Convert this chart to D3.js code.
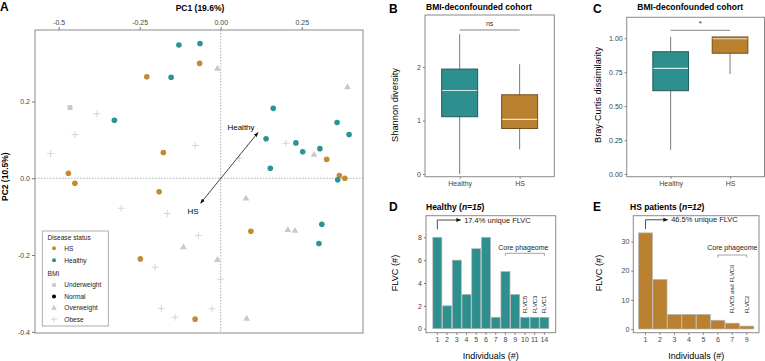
<!DOCTYPE html>
<html>
<head>
<meta charset="utf-8">
<script src="https://cdn.jsdelivr.net/npm/d3@7"></script>
<style>
  body { margin: 0; background: #fff; }
  svg { display: block; font-family: "Liberation Sans", Arial, sans-serif; }
</style>
</head>
<body>
<svg id="fig" width="765" height="361"></svg>
<script>
// ---- panel A : PCoA coordinates [PC1, PC2]
const hsPts = [[-0.065, 0.299], [-0.228, 0.264], [-0.177, 0.067], [-0.470, 0.013], [-0.450, -0.013],
  [-0.190, -0.035], [0.327, 0.049], [0.366, 0.007], [0.383, 0.000], [0.093, -0.138], [-0.248, -0.210], [-0.079, -0.367]];
const healthyPts = [[-0.129, 0.347], [-0.064, 0.351], [-0.153, 0.263], [-0.328, 0.151], [0.162, 0.182],
  [0.359, 0.145], [0.396, 0.114], [0.140, 0.103], [0.232, 0.092], [0.253, 0.069], [0.306, 0.077],
  [0.153, 0.026], [0.361, -0.004], [0.312, -0.120], [0.303, -0.170]];
const underweightPts = [[-0.465, 0.184]];
const overweightPts = [[-0.010, 0.285], [0.391, 0.237], [0.288, 0.061], [0.078, -0.053], [0.207, -0.135],
  [0.229, -0.137], [-0.115, -0.180], [-0.010, -0.213], [0.080, -0.366]];
const obesePts = [[-0.382, 0.168], [-0.450, 0.114], [-0.525, 0.064], [-0.079, 0.085], [0.057, 0.052],
  [0.201, 0.091], [-0.307, -0.078], [-0.165, -0.092], [-0.069, -0.149], [-0.203, -0.232], [-0.001, -0.263],
  [-0.183, -0.339], [-0.141, -0.362], [-0.027, -0.340]];
const arrowFrom = [-0.062, -0.065];
const arrowTo = [0.115, 0.119];
const pc1Ticks = [-0.5, -0.25, 0, 0.25];
const pc1Labels = ['-0.5', '-0.25', '0.00', '0.25'];
const pc2Ticks = [0.2, 0, -0.2, -0.4];
const pc2Labels = ['0.2', '0.0', '-0.2', '-0.4'];

// ---- panels B, C : boxplot stats [min, q1, median, q3, max]
const groups = ['Healthy', 'HS'];
const shannonBox = [[0, 1.07, 1.56, 1.96, 2.61], [0.46, 0.85, 1.02, 1.48, 2.05]];
const brayBox = [[0.177, 0.614, 0.779, 0.901, 1.01], [0.737, 0.89, 0.997, 1.01, 1.01]];
const shannonTicks = [0, 1, 2];
const brayTicks = [0, 0.25, 0.5, 0.75, 1];

// ---- panels D, E : FLVC per individual
const healthyIds = ['1', '2', '3', '4', '5', '6', '7', '8', '9', '10', '11', '14'];
const healthyFlvc = [8, 2, 6, 3, 7, 8, 1, 5, 3, 1, 1, 1];
const hsIds = ['1', '2', '3', '4', '5', '6', '7', '9'];
const hsFlvc = [33, 17, 5, 5, 5, 3, 2, 1];

const teal = '#2e8f8f', tealDark = '#1f5c5c', orange = '#b98030', orangeDark = '#74511c';
const dotTeal = '#2a9393', dotOrange = '#c38a2e';
const grey = '#c9c9c9', frameCol = '#8a8a8a', tickText = '#444';

const svg = d3.select('#fig');

function frame(x0, y0, x1, y1) {
  svg.append('rect').attr('x', x0).attr('y', y0).attr('width', x1 - x0).attr('height', y1 - y0)
    .attr('fill', 'none').attr('stroke', frameCol).attr('stroke-width', 1);
}
function styleAxis(g, size) {
  g.attr('font-family', null).attr('font-size', size || 7);
  g.select('.domain').remove();
  g.selectAll('line').attr('stroke', '#777');
  g.selectAll('text').attr('fill', tickText);
}
function letter(t, x, y) {
  svg.append('text').attr('x', x).attr('y', y).attr('font-size', 12).attr('font-weight', 'bold').text(t);
}
function yTitle(t, x, y, size, bold) {
  svg.append('text').attr('transform', `translate(${x},${y}) rotate(-90)`).attr('text-anchor', 'middle')
    .attr('dy', '0.35em').attr('font-size', size).attr('font-weight', bold ? 'bold' : null).text(t);
}

// =============== Panel A
const xA = d3.scaleLinear().domain([-0.573, 0.439]).range([35, 363]);
const yA = d3.scaleLinear().domain([0.386, -0.403]).range([30, 333]);

svg.append('line').attr('x1', xA(0)).attr('x2', xA(0)).attr('y1', yA.range()[0]).attr('y2', yA.range()[1])
  .attr('stroke', '#9a9a9a').attr('stroke-width', 0.8).attr('stroke-dasharray', '1.5,1.5');
svg.append('line').attr('y1', yA(0)).attr('y2', yA(0)).attr('x1', xA.range()[0]).attr('x2', xA.range()[1])
  .attr('stroke', '#9a9a9a').attr('stroke-width', 0.8).attr('stroke-dasharray', '1.5,1.5');

svg.append('g').attr('transform', `translate(0,${yA.range()[0]})`)
  .call(d3.axisTop(xA).tickValues(pc1Ticks).tickFormat((d, i) => pc1Labels[i]).tickSize(3).tickPadding(2))
  .call(g => styleAxis(g));
svg.append('g').attr('transform', `translate(${xA.range()[0]},0)`)
  .call(d3.axisLeft(yA).tickValues(pc2Ticks).tickFormat((d, i) => pc2Labels[i]).tickSize(3).tickPadding(2))
  .call(g => styleAxis(g));

const plusPath = 'M-3.5,0H3.5M0,-3.5V3.5';
svg.append('g').selectAll('path').data(obesePts).join('path')
  .attr('transform', d => `translate(${xA(d[0])},${yA(d[1])})`).attr('d', plusPath)
  .attr('stroke', '#cdcdcd').attr('stroke-width', 0.8).attr('fill', 'none');
svg.append('g').selectAll('path').data(overweightPts).join('path')
  .attr('transform', d => `translate(${xA(d[0])},${yA(d[1])})`)
  .attr('d', d3.symbol(d3.symbolTriangle, 20)).attr('fill', grey);
svg.append('g').selectAll('path').data(underweightPts).join('path')
  .attr('transform', d => `translate(${xA(d[0])},${yA(d[1])})`)
  .attr('d', d3.symbol(d3.symbolSquare, 25)).attr('fill', grey);
svg.append('g').selectAll('circle').data(hsPts).join('circle')
  .attr('cx', d => xA(d[0])).attr('cy', d => yA(d[1])).attr('r', 2.8).attr('fill', dotOrange);
svg.append('g').selectAll('circle').data(healthyPts).join('circle')
  .attr('cx', d => xA(d[0])).attr('cy', d => yA(d[1])).attr('r', 2.8).attr('fill', dotTeal);

// double arrow
const defs = svg.append('defs');
defs.append('marker').attr('id', 'ah').attr('viewBox', '0 0 10 10').attr('refX', 9).attr('refY', 5)
  .attr('markerWidth', 6).attr('markerHeight', 6).attr('orient', 'auto-start-reverse')
  .append('path').attr('d', 'M0,1L10,5L0,9z').attr('fill', '#111');
svg.append('line').attr('x1', xA(arrowFrom[0])).attr('y1', yA(arrowFrom[1]))
  .attr('x2', xA(arrowTo[0])).attr('y2', yA(arrowTo[1]))
  .attr('stroke', '#111').attr('stroke-width', 0.8)
  .attr('marker-start', 'url(#ah)').attr('marker-end', 'url(#ah)');
svg.append('text').attr('x', 241).attr('y', 130).attr('text-anchor', 'middle').attr('font-size', 8).text('Healthy');
svg.append('text').attr('x', 193).attr('y', 213.5).attr('text-anchor', 'middle').attr('font-size', 8).text('HS');

frame(35, 30, 363, 333);
letter('A', 0, 10.5);
svg.append('text').attr('x', 200).attr('y', 10.5).attr('text-anchor', 'middle').attr('font-size', 8.5)
  .attr('font-weight', 'bold').text('PC1 (19.6%)');
yTitle('PC2 (10.5%)', 5.5, 176.7, 8.5, true);

// legend
const lg = svg.append('g');
lg.append('rect').attr('x', 42.3).attr('y', 231).attr('width', 66).attr('height', 95)
  .attr('fill', '#fff').attr('stroke', '#999').attr('stroke-width', 0.8);
const lgItems = [
  { t: 'Disease status', y: 237.3, head: true },
  { t: 'HS', y: 248.3, sym: 'c', col: dotOrange },
  { t: 'Healthy', y: 260.3, sym: 'c', col: dotTeal },
  { t: 'BMI', y: 273.5, head: true },
  { t: 'Underweight', y: 285, sym: 's', col: grey },
  { t: 'Normal', y: 296.5, sym: 'c', col: '#000' },
  { t: 'Overweight', y: 308, sym: 't', col: grey },
  { t: 'Obese', y: 319.3, sym: 'p', col: '#cdcdcd' }
];
lgItems.forEach(it => {
  lg.append('text').attr('x', it.head ? 47.5 : 64.3).attr('y', it.y + 2.3).attr('font-size', 6.6)
    .attr('fill', '#222').text(it.t);
  if (it.head) return;
  if (it.sym === 'c') lg.append('circle').attr('cx', 54).attr('cy', it.y).attr('r', 2).attr('fill', it.col);
  if (it.sym === 's') lg.append('path').attr('transform', `translate(54,${it.y})`).attr('d', d3.symbol(d3.symbolSquare, 14)).attr('fill', it.col);
  if (it.sym === 't') lg.append('path').attr('transform', `translate(54,${it.y})`).attr('d', d3.symbol(d3.symbolTriangle, 14)).attr('fill', it.col);
  if (it.sym === 'p') lg.append('path').attr('transform', `translate(54,${it.y})`).attr('d', 'M-3,0H3M0,-3V3')
    .attr('stroke', it.col).attr('stroke-width', 0.8);
});

// =============== Panels B & C (boxplots)
function boxPanel(o) {
  const x = d3.scalePoint().domain(groups).range([o.x0, o.xr]).padding(o.pad);
  const y = d3.scaleLinear().domain(o.ydom).range([o.y1, o.y0]);
  const bw = x.step() * 0.6;
  o.stats.forEach((s, i) => {
    const cx = x(groups[i]);
    const g = svg.append('g');
    g.append('line').attr('x1', cx).attr('x2', cx).attr('y1', y(s[0])).attr('y2', y(s[4]))
      .attr('stroke', '#7a7a7a').attr('stroke-width', 1);
    g.append('rect').attr('x', cx - bw / 2).attr('width', bw).attr('y', y(s[3])).attr('height', y(s[1]) - y(s[3]))
      .attr('fill', o.fills[i]).attr('stroke', o.strokes[i]).attr('stroke-width', 1);
    g.append('line').attr('x1', cx - bw / 2 + 0.5).attr('x2', cx + bw / 2 - 0.5).attr('y1', y(s[2])).attr('y2', y(s[2]))
      .attr('stroke', o.meds[i]).attr('stroke-width', 1.2);
  });
  svg.append('g').attr('transform', `translate(${o.x0},0)`)
    .call(d3.axisLeft(y).tickValues(o.ticks).tickFormat(o.fmt).tickSize(2).tickPadding(2))
    .call(g => styleAxis(g));
  svg.append('g').attr('transform', `translate(0,${o.y1})`)
    .call(d3.axisBottom(x).tickSize(2).tickPadding(2))
    .call(g => styleAxis(g));
  // significance bracket
  svg.append('line').attr('x1', x(groups[0])).attr('x2', x(groups[1])).attr('y1', y(o.sigY)).attr('y2', y(o.sigY))
    .attr('stroke', '#666').attr('stroke-width', 0.8);
  svg.append('text').attr('x', (x(groups[0]) + x(groups[1])) / 2).attr('y', y(o.sigY) - 4)
    .attr('text-anchor', 'middle').attr('font-size', o.sigSize).attr('fill', '#333').text(o.sig);
  frame(o.x0, o.y0, o.x1, o.y1);
  svg.append('text').attr('x', o.tx).attr('y', 10).attr('font-size', 8.5).attr('font-weight', 'bold')
    .text('BMI-deconfounded cohort');
}

boxPanel({ x0: 425, x1: 554.3, xr: 554.3, pad: 0.578, y0: 15, y1: 176.7, ydom: [-0.05, 2.97],
  stats: shannonBox, ticks: shannonTicks, fmt: d3.format('d'), sigY: 2.69, sig: 'ns', sigSize: 7,
  fills: [teal, orange], strokes: [tealDark, orangeDark], meds: ['#cfe8e8', '#f4e4c4'], tx: 426 });
letter('B', 389, 12.5);
yTitle('Shannon diversity', 394.5, 105, 9.3);

boxPanel({ x0: 626.7, x1: 764.5, xr: 774, pad: 0.74, y0: 17.3, y1: 176.7, ydom: [-0.02, 1.155],
  stats: brayBox, ticks: brayTicks, fmt: d3.format('.2f'), sigY: 1.059, sig: '*', sigSize: 8,
  fills: [teal, orange], strokes: [tealDark, orangeDark], meds: ['#cfe8e8', '#f4e4c4'], tx: 637.3 });
letter('C', 593, 12.5);
yTitle('Bray-Curtis dissimilarity', 597.7, 95, 9.2);

// =============== Panels D & E (bars)
function barPanel(o) {
  const x = d3.scaleBand().domain(o.ids).range([o.x0, o.x1]).paddingInner(o.pi).paddingOuter(o.po);
  const y = d3.scaleLinear().domain(o.ydom).range([o.y1, o.y0]);
  svg.append('g').selectAll('rect').data(o.vals).join('rect')
    .attr('x', (d, i) => x(o.ids[i])).attr('width', x.bandwidth())
    .attr('y', d => y(d)).attr('height', d => y(0) - y(d))
    .attr('fill', o.fill).attr('stroke', '#b5b5b5').attr('stroke-width', 0.7);
  svg.append('g').attr('transform', `translate(${o.x0},0)`)
    .call(d3.axisLeft(y).tickValues(o.ticks).tickSize(2).tickPadding(2))
    .call(g => styleAxis(g));
  svg.append('g').attr('transform', `translate(0,${o.y1})`)
    .call(d3.axisBottom(x).tickSize(2).tickPadding(2))
    .call(g => styleAxis(g));
  frame(o.x0, o.y0, o.x1, o.y1);

  // unique FLVC arrow
  const cx = x(o.ids[0]) + x.bandwidth() / 2;
  svg.append('path').attr('d', `M${cx},${y(o.annLo)}V${y(o.annHi)}H${o.arrowEnd}`)
    .attr('fill', 'none').attr('stroke', '#222').attr('stroke-width', 0.8).attr('marker-end', 'url(#ah)');
  svg.append('text').attr('x', o.arrowEnd + 3.5).attr('y', y(o.annHi) + 2.5).attr('font-size', 7.5)
    .attr('fill', '#222').text(o.uniq);

  // core phageome bracket
  const bx0 = x(o.core[0]) + x.bandwidth() / 2, bx1 = x(o.core[1]) + x.bandwidth() / 2;
  svg.append('path').attr('d', `M${bx0},${o.brY + 2.5}V${o.brY}H${bx1}V${o.brY + 2.5}`)
    .attr('fill', 'none').attr('stroke', '#999').attr('stroke-width', 0.9);
  svg.append('text').attr('x', o.coreX).attr('y', 249.5).attr('text-anchor', 'middle').attr('font-size', 7)
    .attr('fill', '#222').text('Core phageome');

  o.flvcLabels.forEach(l => {
    const lx = x(l.id) + x.bandwidth() / 2;
    svg.append('text').attr('transform', `translate(${lx},313.5) rotate(-90)`).attr('dy', '0.35em')
      .attr('font-size', 5.9).attr('fill', '#222').text(l.t);
  });

  // titles
  const t = svg.append('text').attr('x', o.tx).attr('y', 210).attr('font-size', 8.5).attr('font-weight', 'bold');
  t.append('tspan').text(o.title + ' (');
  t.append('tspan').attr('font-style', 'italic').text(o.n);
  t.append('tspan').text(')');
  svg.append('text').attr('x', (o.x0 + o.x1) / 2).attr('y', 358.5).attr('text-anchor', 'middle')
    .attr('font-size', 9).text('Individuals (#)');
}

barPanel({ ids: healthyIds, vals: healthyFlvc, x0: 426, x1: 555.7, pi: 0.07, po: 0.7, y0: 215.7, y1: 332.7,
  ydom: [-0.35, 9.89], ticks: [0, 2, 4, 6, 8], fill: teal, annLo: 8.7, annHi: 9.51, arrowEnd: 460.7,
  uniq: '17.4% unique FLVC', core: ['8', '14'], brY: 253.3, coreX: 523.3,
  flvcLabels: [{ id: '10', t: 'FLVC5' }, { id: '11', t: 'FLVC3' }, { id: '14', t: 'FLVC1' }],
  title: 'Healthy', n: 'n=15', tx: 426 });
letter('D', 389, 211);
yTitle('FLVC (#)', 395, 273, 9.2);

barPanel({ ids: hsIds, vals: hsFlvc, x0: 633.3, x1: 759, pi: 0.03, po: 0.36, y0: 215.7, y1: 332.7,
  ydom: [-1.27, 38.9], ticks: [0, 10, 20, 30], fill: orange, annLo: 34.3, annHi: 37.5, arrowEnd: 667.7,
  uniq: '46.5% unique FLVC', core: ['6', '9'], brY: 255, coreX: 732.3,
  flvcLabels: [{ id: '7', t: 'FLVC5 and FLVC6' }, { id: '9', t: 'FLVC2' }],
  title: 'HS patients', n: 'n=12', tx: 630 });
letter('E', 593, 211);
yTitle('FLVC (#)', 598.3, 273, 9.2);
</script>
</body>
</html>
